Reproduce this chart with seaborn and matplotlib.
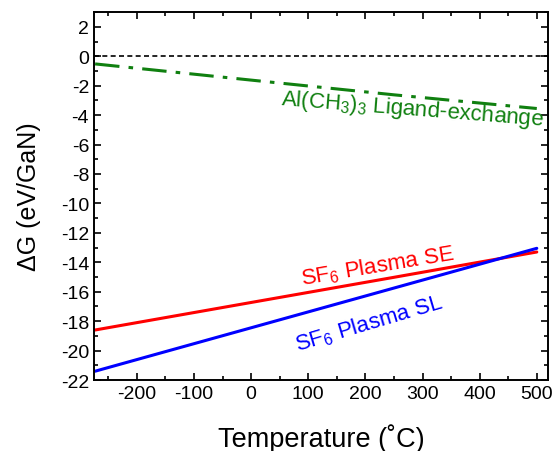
import matplotlib
matplotlib.use("Agg")
import matplotlib.pyplot as plt
import numpy as np
import pandas as pd
import seaborn as sns
from matplotlib.ticker import MultipleLocator

# Data
temperature = [-273, 0, 250, 500]
dg_ligand = [-0.52, -1.62, -2.62, -3.55]
dg_plasma_se = [-18.6, -16.73, -15.02, -13.3]
dg_plasma_sl = [-21.4, -18.45, -15.75, -13.05]

sns.set_style("ticks")
plt.rcParams["font.family"] = ["Liberation Sans", "DejaVu Sans"]
plt.rcParams["mathtext.fontset"] = "custom"
plt.rcParams["mathtext.rm"] = "Liberation Sans"
plt.rcParams["mathtext.it"] = "Liberation Sans"
plt.rcParams["axes.unicode_minus"] = False

df = pd.DataFrame({
    "T": temperature,
    "ligand": dg_ligand,
    "se": dg_plasma_se,
    "sl": dg_plasma_sl,
})

fig = plt.figure(figsize=(5.56, 4.52), dpi=100)
ax = fig.add_axes([0.169, 0.157, 0.817, 0.814])

ax.axhline(0, color="black", lw=1.2, ls=(0, (3, 2)))
sns.lineplot(data=df, x="T", y="ligand", ax=ax, color="#108010", lw=2.2,
             ls=(0, (8, 3, 1.5, 3)))
sns.lineplot(data=df, x="T", y="se", ax=ax, color="#ff0000", lw=2.2)
sns.lineplot(data=df, x="T", y="sl", ax=ax, color="#0000ff", lw=2.2)

ax.text(283, -3.55, r"Al(CH$_3$)$_3$ Ligand-exchange", color="#108010",
        fontsize=16, rotation=-4.5, ha="center", va="center")
ax.text(222, -14.2, r"SF$_6$ Plasma SE", color="#ff0000",
        fontsize=16, rotation=9.5, ha="center", va="center")
ax.text(207, -18.1, r"SF$_6$ Plasma SL", color="#0000ff",
        fontsize=16, rotation=16.5, ha="center", va="center")

ax.set_xlim(-275, 520)
ax.set_ylim(-22, 3)
ax.xaxis.set_major_locator(MultipleLocator(100))
ax.xaxis.set_minor_locator(MultipleLocator(50))
ax.yaxis.set_major_locator(MultipleLocator(2))
ax.yaxis.set_minor_locator(MultipleLocator(1))
ax.tick_params(which="both", direction="in", top=True, right=True,
               labelsize=14, width=1.2, colors="black")
ax.tick_params(which="major", length=5)
ax.tick_params(which="minor", length=3)
for s in ax.spines.values():
    s.set_linewidth(1.4)
    s.set_color("black")

ax.set_xlabel("Temperature (˚C)", fontsize=19.5, labelpad=15, color="black")
ax.set_ylabel("ΔG (eV/GaN)", fontsize=18, labelpad=14, color="black")

fig.savefig("out.png", dpi=100)
